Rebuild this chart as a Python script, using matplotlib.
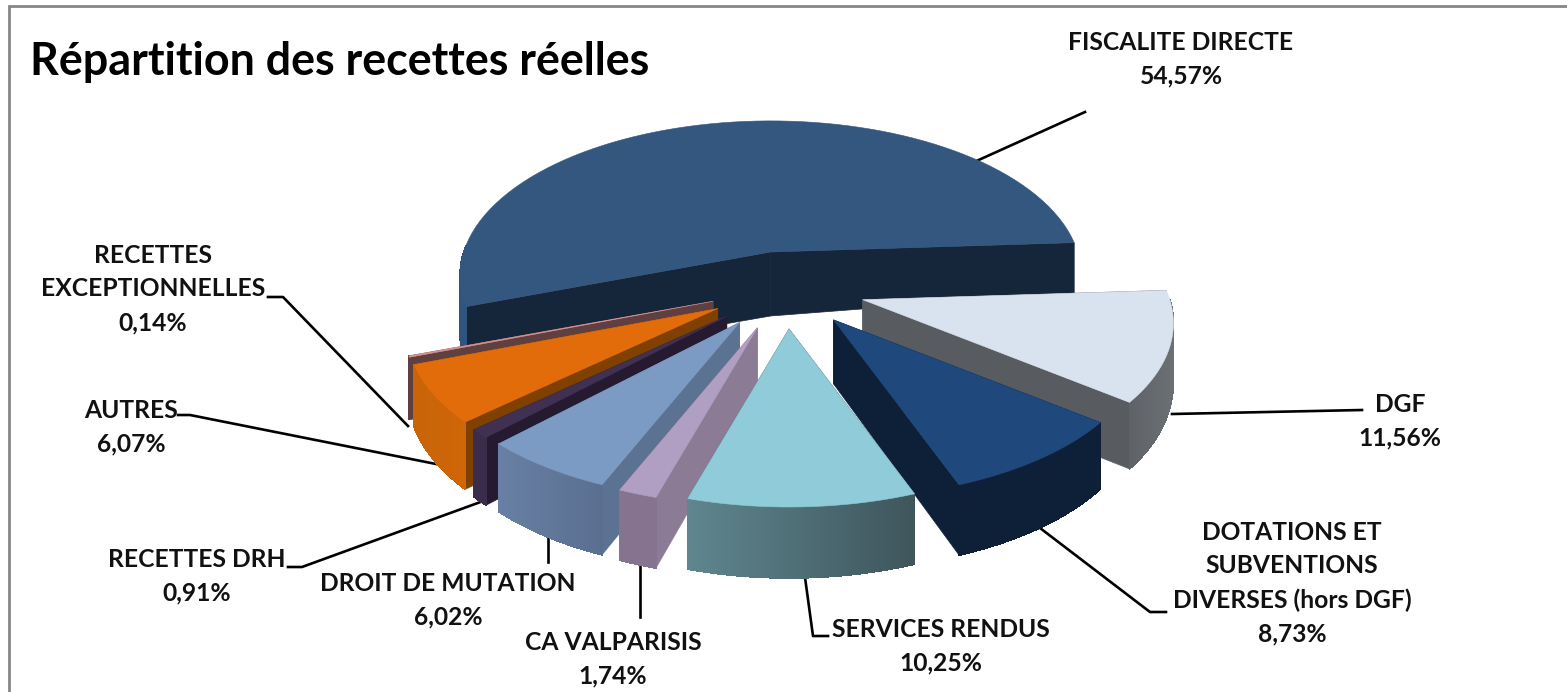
import numpy as np
import matplotlib
matplotlib.use("Agg")
import matplotlib.pyplot as plt
from matplotlib.patches import Polygon

# recettes reelles, in % (clockwise, starting with the big slice)
names = ["FISCALITE\u00a0DIRECTE", "DGF", "DOTATIONS ET\nSUBVENTIONS\nDIVERSES (hors DGF)",
         "SERVICES RENDUS", "CA VALPARISIS", "DROIT DE MUTATION", "RECETTES DRH",
         "AUTRES", "RECETTES\nEXCEPTIONNELLES"]
values = [54.57, 11.56, 8.73, 10.25, 1.74, 6.02, 0.91, 6.07, 0.14]
value_labels = ["54,57%", "11,56%", "8,73%", "10,25%", "1,74%", "6,02%", "0,91%", "6,07%", "0,14%"]

top_colors = ["#34577f", "#d9e3f0", "#1f487c", "#90cbda", "#b09ec3", "#7b9ac4", "#403152", "#e36c0a", "#d99694"]
cut_colors = ["#16263a", "#585c61", "#0d2038", "#3f555c", "#8c7b95", "#5b7293", "#261a31", "#7f4000", "#5f3f3f"]
rim_left = ["#2f5480", "#5f6367", "#0d2038", "#5f868f", "#85738f", "#6880a5", "#3a2c4a", "#c96409", "#5f3f3f"]
rim_right = ["#2f5480", "#6b7074", "#0d2038", "#3f555c", "#85738f", "#5a6f90", "#3a2c4a", "#cf6608", "#5f3f3f"]

# label centres and leader lines, in pixels of the picture
label_xy = [(1181, 59), (1400, 421), (1292, 583), (941, 646), (613, 659),
            (448, 600), (197, 576), (131, 427), (153, 289)]
leaders = [[(972, 163), (1085, 112)],
           [(1172, 414), (1362, 410)],
           [(1040, 528), (1150, 612), (1166, 612)],
           [(804, 570), (813, 636), (828, 636)],
           [(640, 560), (640, 617)],
           [(548, 530), (548, 562)],
           [(486, 500), (302, 567), (288, 567)],
           [(436, 464), (190, 415), (178, 415)],
           [(408, 426), (283, 297), (268, 297)]]

# pie geometry
cx, cy = 786, 288
rx, ry = 307, 151
persp = 0.152
explode = [0.28, 0.25, 0.23, 0.23, 0.24, 0.24, 0.24, 0.24, 0.24]
start_angle = 200.05
depth_apex = 64


def project(theta, r=1.0):
    c, s = np.cos(np.radians(theta)), np.sin(np.radians(theta))
    d = 1 + persp * s
    return r * rx * c / d, -r * ry * s / d


def rim_depth(theta):
    s = np.sin(np.radians(theta))
    return 50 + 21 * np.sqrt(max(-s, 0))


def blend(c1, c2, t):
    a = np.array(matplotlib.colors.to_rgb(c1))
    b = np.array(matplotlib.colors.to_rgb(c2))
    return tuple(a + (b - a) * t)


def draw_slice(ax, a0, a1, i):
    mid = (a0 + a1) / 2
    ox, oy = project(mid, explode[i])
    ax0, ay0 = cx + ox, cy + oy
    angles = np.linspace(a0, a1, 80)
    rim = [(ax0 + project(t)[0], ay0 + project(t)[1]) for t in angles]
    low = [(x, y + rim_depth(t)) for (x, y), t in zip(rim, angles)]

    # the two cuts
    for k in (0, -1):
        cut = [(ax0, ay0), rim[k], low[k], (ax0, ay0 + depth_apex)]
        ax.add_patch(Polygon(cut, closed=True, fc=cut_colors[i], ec=cut_colors[i], lw=0.5))

    # outer wall, small strips for the gradient
    xs = [p[0] for p in rim]
    xmin, xmax = min(xs), max(xs)
    for j in range(len(angles) - 1):
        if np.sin(np.radians(angles[j])) > 0:
            continue
        t = (rim[j][0] - xmin) / max(xmax - xmin, 1)
        col = blend(rim_left[i], rim_right[i], t)
        ax.add_patch(Polygon([rim[j], rim[j + 1], low[j + 1], low[j]], closed=True,
                             fc=col, ec=col, lw=0.5, antialiased=False))

    ax.add_patch(Polygon([(ax0, ay0)] + rim, closed=True, fc=top_colors[i],
                         ec=top_colors[i], lw=0.4))


plt.rcParams['font.family'] = ['Lato', 'DejaVu Sans']
fig = plt.figure(figsize=(15.67, 6.92), dpi=100)
ax = fig.add_axes([0, 0, 1, 1])
ax.set_xlim(0, 1567)
ax.set_ylim(692, 0)
ax.axis("off")

# frame, open on the right and at the bottom
ax.plot([9, 9, 1567], [692, 5.5, 5.5], color="#868686", lw=2, solid_joinstyle="miter")

for pts in leaders:
    ax.plot([p[0] for p in pts], [p[1] for p in pts], color="black", lw=1.9, zorder=1)

edges = [start_angle]
for v in values:
    edges.append(edges[-1] - v / sum(values) * 360)

order = sorted(range(len(values)),
               key=lambda i: -np.sin(np.radians((edges[i] + edges[i + 1]) / 2)))
for i in order:
    draw_slice(ax, edges[i], edges[i + 1], i)

ax.text(30, 62, "Répartition des recettes réelles", fontsize=32.3, fontweight="bold",
        ha="left", va="center", color="black")

for name, val, (x, y) in zip(names, value_labels, label_xy):
    ax.text(x, y, name + "\n" + val, fontsize=17.7, fontweight="bold", ha="center",
            va="center", linespacing=1.55, color="#111111", zorder=5)

fig.savefig("out.png", dpi=100)
